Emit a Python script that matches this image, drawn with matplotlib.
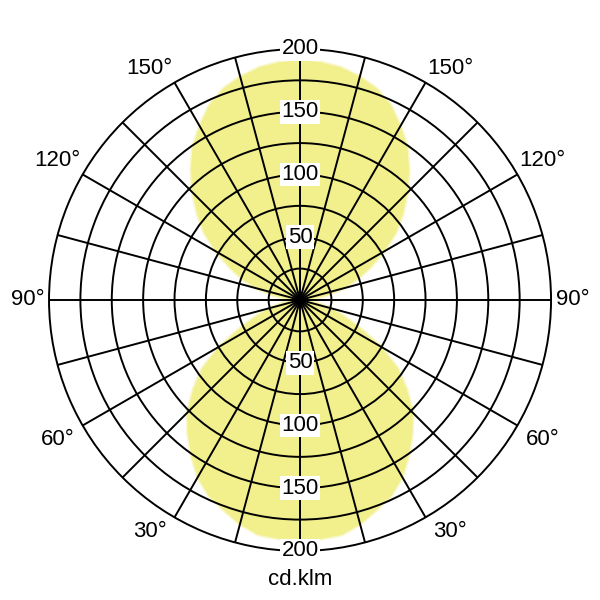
import numpy as np
import matplotlib.pyplot as plt

# luminous intensity (cd/klm), symmetric left/right
gamma_lower = [0, 5, 10, 15, 20, 25, 30, 35, 40, 45, 50, 55, 60, 65, 70, 75, 80, 85, 90]
cd_lower = [191, 191, 190, 185, 178, 172, 163, 151, 139, 127, 111, 95, 74, 52, 36, 24, 14, 6, 0]
gamma_upper = [95, 100, 105, 110, 115, 120, 125, 130, 135, 140, 145, 150, 155, 160, 165, 170, 175, 180]
cd_upper = [10, 22, 36, 49, 62, 77, 93, 107, 121, 135, 149, 160, 171, 179, 184, 188, 190, 191]

ring_values = [25, 50, 75, 100, 125, 150, 175]
ring_labels = [50, 100, 150, 200]
angle_labels = [30, 60, 90, 120, 150]

plt.rcParams['font.family'] = ['Liberation Sans', 'DejaVu Sans']

gamma = np.array(gamma_lower + gamma_upper, dtype=float)
cd = np.array(cd_lower + cd_upper, dtype=float)
theta = np.deg2rad(np.concatenate([gamma, 360 - gamma[::-1]]))
r = np.concatenate([cd, cd[::-1]])

fig = plt.figure(figsize=(6, 6), dpi=100)
ax = fig.add_axes([0.0817, 0.0817, 0.8367, 0.8367], projection='polar')
ax.set_theta_zero_location('S')
ax.set_ylim(0, 200)

# soft edge like the reference, then solid fill
ax.fill(theta, r, color='#f2f08c', zorder=0.4, lw=2.5, ec='#f2f08c', alpha=0.5)
ax.fill(theta, r, color='#f2f08c', zorder=0.5, lw=0)

ax.set_thetagrids(np.arange(0, 360, 15), labels=[])
ax.set_rgrids(ring_values, labels=[])
ax.grid(True, color='black', linewidth=1.4)
ax.spines['polar'].set_color('black')
ax.spines['polar'].set_linewidth(1.4)
ax.tick_params(length=0)

box = dict(facecolor='white', edgecolor='none', pad=1.0)
for v in ring_labels:
    ax.text(np.pi, v, str(v), ha='center', va='center', fontsize=16, bbox=box, zorder=5, clip_on=False)
    ax.text(0, v, str(v), ha='center', va='center', fontsize=16, bbox=box, zorder=5, clip_on=False)

# label placement: small angular offset away from the vertical axis for 30/150
shift = {30: 3, 60: 0, 90: 0, 120: 0, 150: -3}
rad = {30: 220, 60: 223, 90: 217, 120: 223, 150: 220}
for a in angle_labels:
    for side in (1, -1):
        ax.text(np.deg2rad(side * (a + shift[a])), rad[a], f'{a}°',
                ha='center', va='center', fontsize=16, clip_on=False)

ax.text(0, 223, 'cd.klm', ha='center', va='center', fontsize=16, clip_on=False)

fig.savefig('out.png', dpi=100)
